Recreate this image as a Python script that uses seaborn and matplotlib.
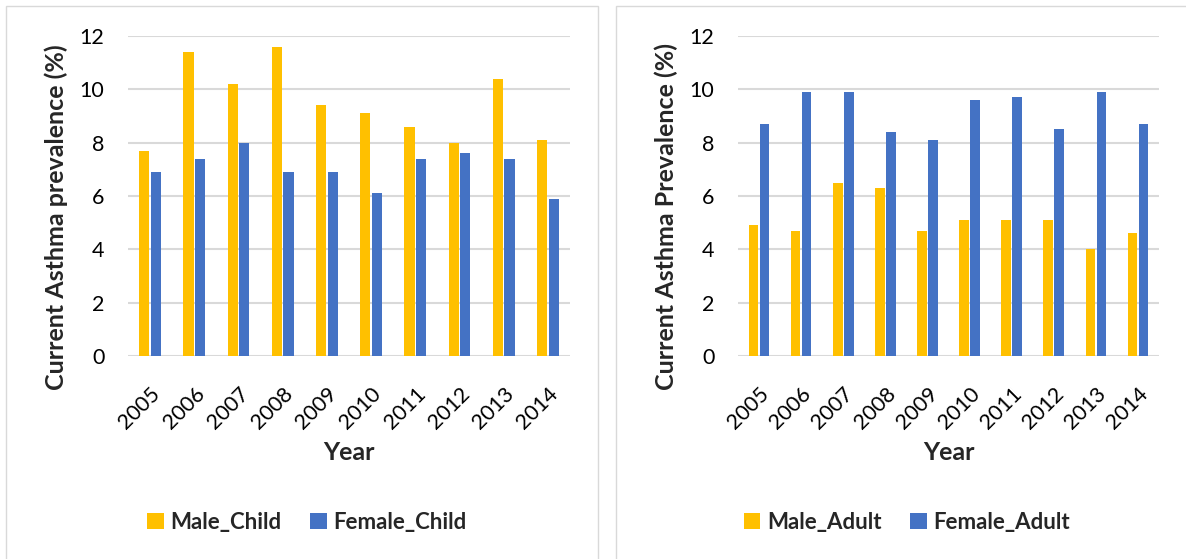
# asthma prevalence by sex, children vs adults
import matplotlib
matplotlib.use("Agg")
import matplotlib.pyplot as plt
from matplotlib.patches import Rectangle
import seaborn as sns
import pandas as pd

years = ["2005", "2006", "2007", "2008", "2009", "2010", "2011", "2012", "2013", "2014"]
male_child = [7.7, 11.4, 10.2, 11.6, 9.4, 9.1, 8.6, 8.0, 10.4, 8.1]
female_child = [6.9, 7.4, 8.0, 6.9, 6.9, 6.1, 7.4, 7.6, 7.4, 5.9]
male_adult = [4.9, 4.7, 6.5, 6.3, 4.7, 5.1, 5.1, 5.1, 4.0, 4.6]
female_adult = [8.7, 9.9, 9.9, 8.4, 8.1, 9.6, 9.7, 8.5, 9.9, 8.7]

yellow = "#FFC000"
blue = "#4472C4"

sns.set_style("white")
plt.rcParams['font.family'] = ['Lato', 'DejaVu Sans']

fig = plt.figure(figsize=(11.86, 5.59), dpi=100)

# panel frames
fig.add_artist(Rectangle((6 / 1186, -0.1), 592 / 1186, 1.1 - 6 / 559, transform=fig.transFigure,
                         fill=False, edgecolor="#D9D9D9", linewidth=1))
fig.add_artist(Rectangle((616 / 1186, -0.1), 0.6, 1.1 - 6 / 559, transform=fig.transFigure,
                         fill=False, edgecolor="#D9D9D9", linewidth=1))


def make_df(male, female, male_name, female_name):
    return pd.DataFrame({
        "Year": years * 2,
        "Value": male + female,
        "Series": [male_name] * len(years) + [female_name] * len(years),
    })


panels = [
    (make_df(male_child, female_child, "Male_Child", "Female_Child"),
     [128 / 1186, 1 - 356 / 559, 442 / 1186, 320 / 559],
     "Current Asthma prevalence (%)", 307 / 1186),
    (make_df(male_adult, female_adult, "Male_Adult", "Female_Adult"),
     [738 / 1186, 1 - 356 / 559, 421 / 1186, 320 / 559],
     "Current Asthma Prevalence (%)", 907 / 1186),
]

for df, pos, ylab, leg_x in panels:
    ax = fig.add_axes(pos)
    names = df["Series"].unique()
    sns.barplot(data=df, x="Year", y="Value", hue="Series", ax=ax,
                palette={names[0]: yellow, names[1]: blue},
                width=0.52, gap=0.12, saturation=1, edgecolor="none")
    ax.set_ylim(0, 12)
    ax.set_yticks([0, 2, 4, 6, 8, 10, 12])
    ax.grid(axis="y", color="#D9D9D9", linewidth=1.5)
    ax.set_axisbelow(True)
    for s in ax.spines.values():
        s.set_visible(False)
    ax.tick_params(axis="both", length=0, labelsize=15.5, colors="black")
    ax.tick_params(axis="y", pad=17)
    ax.tick_params(axis="x", pad=20)
    plt.setp(ax.get_xticklabels(), rotation=45, ha="right", rotation_mode="anchor")
    ax.set_xlabel("Year", fontsize=18, fontweight="bold", labelpad=6)
    ax.set_ylabel(ylab, fontsize=18, fontweight="bold", labelpad=5)
    ax.yaxis.set_label_coords(-0.135 if leg_x < 0.5 else -0.142, 0.435)
    ax.legend_.remove()
    handles, labels = ax.get_legend_handles_labels()
    fig.legend(handles, labels, loc="center", bbox_to_anchor=(leg_x, 1 - 522 / 559),
               ncol=2, frameon=False, handlelength=0.75, handleheight=0.75,
               columnspacing=1.3, handletextpad=0.3,
               prop={"size": 16, "weight": "bold"})

fig.savefig("out.png", dpi=100)
